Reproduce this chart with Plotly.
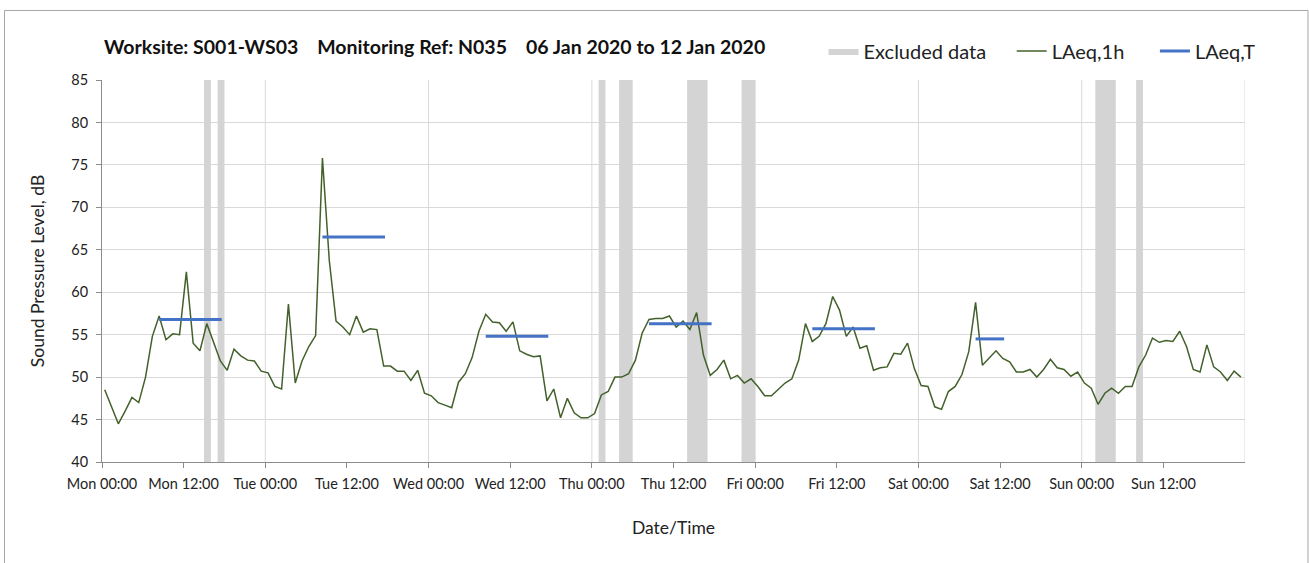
import plotly.graph_objects as go

# hourly LAeq,1h values, Mon 00:00 .. Sun 23:00 (one per hour)
laeq_1h = [
    48.5, 46.5, 44.5, 46.0, 47.6, 47.0, 50.0, 54.8, 57.2, 54.4, 55.1, 55.0,
    62.4, 54.0, 53.1, 56.3, 54.2, 51.9, 50.8, 53.3, 52.5, 52.0, 51.9, 50.7,
    50.5, 48.9, 48.6, 58.6, 49.3, 51.9, 53.6, 54.9, 75.8, 63.8, 56.6, 55.9,
    55.0, 57.2, 55.3, 55.7, 55.6, 51.3, 51.3, 50.7, 50.7, 49.6, 50.8, 48.1,
    47.8, 47.0, 46.7, 46.4, 49.4, 50.4, 52.3, 55.4, 57.4, 56.5, 56.4, 55.4,
    56.5, 53.1, 52.7, 52.4, 52.5, 47.2, 48.6, 45.2, 47.5, 45.8, 45.2, 45.2,
    45.7, 47.9, 48.3, 50.0, 50.0, 50.4, 52.0, 55.2, 56.8, 56.9, 56.9, 57.2,
    55.9, 56.6, 55.6, 57.6, 52.6, 50.2, 50.9, 52.0, 49.8, 50.2, 49.3, 49.8,
    48.9, 47.8, 47.8, 48.5, 49.3, 49.8, 52.0, 56.3, 54.2, 54.8, 56.3, 59.5,
    57.9, 54.8, 55.9, 53.4, 53.7, 50.8, 51.1, 51.2, 52.8, 52.7, 54.0, 51.0,
    49.0, 48.9, 46.5, 46.2, 48.3, 48.9, 50.3, 53.0, 58.8, 51.4, 52.3, 53.1,
    52.2, 51.8, 50.6, 50.6, 50.9, 50.0, 50.9, 52.1, 51.1, 50.9, 50.1, 50.6,
    49.3, 48.7, 46.8, 48.1, 48.7, 48.1, 48.9, 48.9, 51.2, 52.6, 54.6, 54.1,
    54.3, 54.2, 55.4, 53.6, 50.9, 50.6, 53.8, 51.2, 50.6, 49.6, 50.7, 50.0,
]
hours = [i + 0.4 for i in range(len(laeq_1h))]

# LAeq,T daytime periods (start hour, end hour, level)
period_start = [8.4, 32.4, 56.4, 80.4, 104.4, 128.4]
period_end = [17.6, 41.6, 65.6, 89.6, 113.6, 132.6]
period_level = [56.8, 66.5, 54.8, 56.3, 55.7, 54.5]

# excluded data blocks (start hour, end hour)
excl_start = [15, 17, 73, 76, 86, 94, 146, 152]
excl_end = [16, 18, 74, 78, 89, 96, 149, 153]

days = ["Mon", "Tue", "Wed", "Thu", "Fri", "Sat", "Sun"]
tick_vals = list(range(0, 168, 12))
tick_text = [f"{days[v // 24]} {'00:00' if v % 24 == 0 else '12:00'}" for v in tick_vals]

Y_MIN, Y_MAX = 40, 85
FONT = "Lato, 'Open Sans', sans-serif"
GREEN = "#43612B"
BLUE = "#4472C4"
GREY = "#D4D4D4"
SP = "\u00a0"

fig = go.Figure()

# excluded data as shaded blocks
ex_x, ex_y = [], []
for s, e in zip(excl_start, excl_end):
    ex_x += [s, s, e, e, s, None]
    ex_y += [Y_MIN, Y_MAX, Y_MAX, Y_MIN, Y_MIN, None]
fig.add_trace(go.Scatter(
    x=ex_x, y=ex_y, mode="lines", fill="toself", fillcolor=GREY,
    line=dict(width=0, color=GREY), name="Excluded data" + SP * 4, hoverinfo="skip",
))

fig.add_trace(go.Scatter(
    x=hours, y=laeq_1h, mode="lines",
    line=dict(color=GREEN, width=1.5), name="LAeq,1h" + SP * 5,
))

lx, ly = [], []
for s, e, v in zip(period_start, period_end, period_level):
    lx += [s, e, None]
    ly += [v, v, None]
fig.add_trace(go.Scatter(
    x=lx, y=ly, mode="lines",
    line=dict(color=BLUE, width=3), name="LAeq,T",
))

# day gridlines
for d in range(1, 8):
    fig.add_vline(x=24 * d, line_color="#D9D9D9", line_width=1, layer="below")

# outer chart border
fig.add_shape(type="rect", xref="paper", yref="paper",
              x0=-0.0853, x1=1.0551, y0=-0.3, y1=1.182,
              line=dict(color="#A6A6A6", width=1), fillcolor="rgba(0,0,0,0)")

# title as annotation so it can line up with the plot edge
fig.add_annotation(
    text="<b>Worksite: S001-WS03" + SP * 4 + "Monitoring Ref: N035" + SP * 4
         + "06 Jan 2020 to 12 Jan 2020</b>",
    xref="paper", yref="paper", x=0, y=1.088, xanchor="left", yanchor="middle",
    showarrow=False, font=dict(size=19.5, color="#111111", family=FONT),
)

fig.update_layout(
    width=1309, height=563,
    paper_bgcolor="white", plot_bgcolor="white",
    margin=dict(l=102, r=64, t=80, b=101),
    font=dict(family=FONT, color="#222222", size=14),
    legend=dict(
        orientation="h", x=1.0136, xanchor="right", y=1.076, yanchor="middle",
        font=dict(size=20, color="#222222"), bgcolor="rgba(0,0,0,0)",
        itemwidth=30, traceorder="normal",
    ),
    showlegend=True,
)

fig.update_xaxes(
    range=[0, 168], tickmode="array", tickvals=tick_vals, ticktext=tick_text,
    showgrid=False, zeroline=False,
    showline=True, linecolor="#8C8C8C", linewidth=1,
    ticks="outside", ticklen=5, tickcolor="#8C8C8C", ticklabelstandoff=4,
    tickfont=dict(size=14.5),
    title=dict(text="Date/Time", font=dict(size=17.5), standoff=30),
)
fig.update_yaxes(
    range=[Y_MIN, Y_MAX], dtick=5, tick0=40,
    showgrid=True, gridcolor="#D9D9D9", zeroline=False,
    showline=True, linecolor="#8C8C8C", linewidth=1,
    ticks="outside", ticklen=5, tickcolor="#8C8C8C", ticklabelstandoff=5,
    tickfont=dict(size=14.5),
    title=dict(text="Sound Pressure Level, dB", font=dict(size=17.5), standoff=22),
)

fig.write_html("out.html", config={"displayModeBar": False},
               post_script="document.body.style.margin = '0';")
